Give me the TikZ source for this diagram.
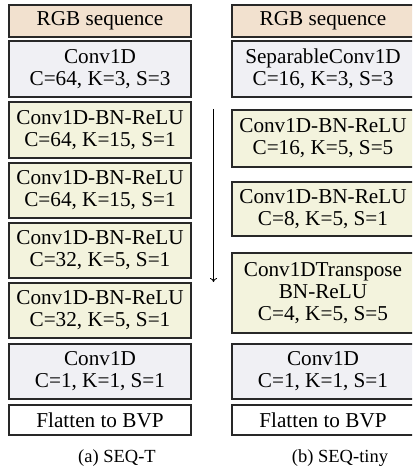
\documentclass[tikz,border=0pt]{standalone}
\usepackage{fontspec}
\setmainfont{Liberation Serif}
\usetikzlibrary{arrows.meta}
\definecolor{peach}{RGB}{242,225,207}
\definecolor{lgray}{RGB}{240,240,244}
\definecolor{lyellow}{RGB}{243,243,221}
\definecolor{edge}{RGB}{40,40,40}
\tikzset{
  blk/.style={draw=edge, line width=1.1pt, minimum width=182pt, inner sep=0pt, align=center,
    font=\fontsize{21.2}{22}\selectfont, text=black},
  rgb/.style={blk, fill=peach},
  conv/.style={blk, fill=lgray},
  cbr/.style={blk, fill=lyellow},
  flat/.style={blk, fill=white},
  captxt/.style={font=\fontsize{18.5}{20}\selectfont},
}
\begin{document}
\begin{tikzpicture}[x=1pt,y=-1pt]
\useasboundingbox (0,0) rectangle (412,470);
\clip (0,0) rectangle (412,470);
\fill[white] (0,0) rectangle (412,470);
% left column (center x = 100)
\node[rgb, minimum height=32pt] (l1) at (100,21) {RGB sequence};
\node[conv, minimum height=56pt] (l2) at (100,69) {Conv1D\\C=64, K=3, S=3};
\node[cbr, minimum height=56pt] (l3) at (100,130) {Conv1D-BN-ReLU\\C=64, K=15, S=1};
\node[cbr, minimum height=55pt] (l4) at (100,190.5) {Conv1D-BN-ReLU\\C=64, K=15, S=1};
\node[cbr, minimum height=55pt] (l5) at (100,250.5) {Conv1D-BN-ReLU\\C=32, K=5, S=1};
\node[cbr, minimum height=55pt] (l6) at (100,310.5) {Conv1D-BN-ReLU\\C=32, K=5, S=1};
\node[conv, minimum height=55pt] (l7) at (100,371.5) {Conv1D\\C=1, K=1, S=1};
\node[flat, minimum height=30pt] (l8) at (100,420) {Flatten to BVP};
\node[captxt] (ca) at (117,458) {(a) SEQ-T};
% right column (center x = 323)
\node[rgb, minimum height=32pt] (r1) at (323,21) {RGB sequence};
\node[conv, minimum height=56pt] (r2) at (323,69) {SeparableConv1D\\C=16, K=3, S=3};
\node[cbr, minimum height=57pt] (r3) at (323,138.5) {Conv1D-BN-ReLU\\C=16, K=5, S=5};
\node[cbr, minimum height=54pt] (r4) at (323,209) {Conv1D-BN-ReLU\\C=8, K=5, S=1};
\node[cbr, minimum height=80pt] (r5) at (323,293) {Conv1DTranspose\\BN-ReLU\\C=4, K=5, S=5};
\node[conv, minimum height=55pt] (r6) at (323,371.5) {Conv1D\\C=1, K=1, S=1};
\node[flat, minimum height=30pt] (r7) at (323,420) {Flatten to BVP};
\node[captxt] (cb) at (340,458) {(b) SEQ-tiny};
% arrow
\coordinate (as) at (213.5,109);
\coordinate (ae) at (213.5,282);
\draw[line width=0.8pt, -{To[length=4pt,width=7pt]}] (as) -- (ae);
\end{tikzpicture}
\end{document}
